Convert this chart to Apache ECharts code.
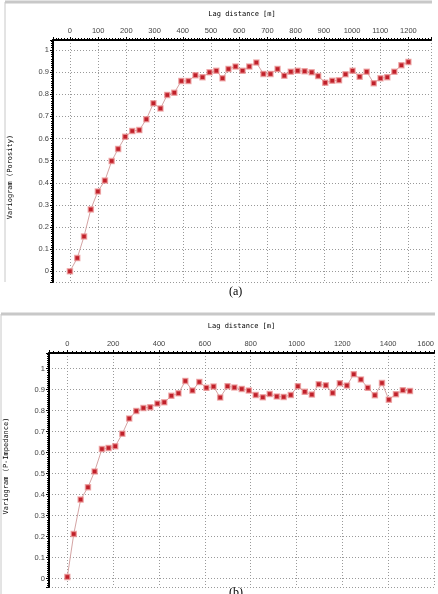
<!DOCTYPE html>
<html>
<head>
<meta charset="utf-8">
<script src="https://cdn.jsdelivr.net/npm/echarts@6/dist/echarts.min.js"></script>
<style>html,body{margin:0;padding:0;background:#fff;}#c{width:438px;height:594px;}</style>
</head>
<body>
<div id="c"></div>
<script>
// Panel (a): Porosity variogram
const lagA = [0,26,50,74,99,124,148,171,196,221,246,271,296,321,345,370,395,420,445,470,495,519,541,562,587,612,636,661,686,711,736,760,783,807,832,857,880,905,930,954,977,1002,1027,1052,1077,1101,1125,1150,1175,1200];
const varA = [0.00,0.06,0.158,0.28,0.361,0.41,0.498,0.553,0.608,0.634,0.638,0.687,0.759,0.736,0.797,0.807,0.86,0.86,0.886,0.877,0.899,0.906,0.872,0.914,0.925,0.906,0.925,0.943,0.892,0.892,0.914,0.884,0.902,0.906,0.904,0.899,0.882,0.852,0.861,0.863,0.89,0.906,0.879,0.902,0.85,0.872,0.877,0.902,0.931,0.946];
// Panel (b): P-Impedance variogram
const lagB = [0,28,58,90,119,151,180,209,240,270,301,332,362,393,423,454,485,515,546,576,607,638,667,699,729,761,792,822,853,883,914,944,975,1006,1036,1067,1097,1128,1158,1189,1220,1250,1281,1311,1342,1373,1403,1434,1464,1495];
const varB = [0.008,0.212,0.376,0.435,0.51,0.617,0.622,0.63,0.69,0.762,0.798,0.812,0.816,0.833,0.839,0.87,0.882,0.941,0.895,0.936,0.908,0.914,0.862,0.916,0.91,0.903,0.895,0.874,0.863,0.879,0.867,0.865,0.874,0.916,0.889,0.876,0.925,0.92,0.884,0.93,0.919,0.973,0.948,0.908,0.873,0.931,0.852,0.878,0.897,0.893];

const xNameA = 'Lag distance [m]';
const yNameA = 'Variogram (Porosity)';
const xNameB = 'Lag distance [m]';
const yNameB = 'Variogram (P-Impedance)';

const chart = echarts.init(document.getElementById('c'), null, {renderer: 'canvas'});

const labelFont = {color: '#444', fontSize: 7.5, fontFamily: 'Liberation Sans'};
const nameFont = {fontFamily: 'DejaVu Sans Mono', fontSize: 7, color: '#000'};
const gridLine = {show: true, lineStyle: {color: '#999', type: [1, 2], width: 1}};
const axisLineStyle = {show: true, onZero: false, lineStyle: {color: '#000', width: 2}};
const plain = v => String(Math.round(v * 1000) / 1000);

function xAxis(gridIndex, min, max, splitNumber, name, nameGap) {
  return {
    type: 'value', gridIndex, position: 'top', min, max, splitNumber,
    name, nameLocation: 'middle', nameGap,
    nameTextStyle: nameFont,
    axisLine: axisLineStyle,
    axisTick: {show: true, inside: false, length: 3, lineStyle: {color: '#000'}},
    minorTick: {show: true, splitNumber: 10, length: 2, lineStyle: {color: '#000'}},
    axisLabel: Object.assign({margin: 5, showMinLabel: false, alignMaxLabel: 'right', formatter: plain}, labelFont),
    splitLine: gridLine
  };
}
function yAxis(gridIndex, min, max, name, nameGap, pad) {
  return {
    type: 'value', gridIndex, min, max, splitNumber: 10,
    name, nameLocation: 'middle', nameGap, nameRotate: 90,
    nameTextStyle: Object.assign({padding: pad}, nameFont),
    axisLine: axisLineStyle,
    axisTick: {show: true, length: 3, lineStyle: {color: '#000'}},
    minorTick: {show: true, splitNumber: 10, length: 2, lineStyle: {color: '#000'}},
    axisLabel: Object.assign({margin: 4, showMinLabel: false, showMaxLabel: false, formatter: plain}, labelFont),
    splitLine: gridLine
  };
}
function series(i, xs, ys) {
  return {
    type: 'line', xAxisIndex: i, yAxisIndex: i,
    data: xs.map((x, k) => [x, ys[k]]),
    symbol: 'rect', symbolSize: 5,
    lineStyle: {color: '#d4a4a4', width: 1},
    itemStyle: {color: '#c0202a', borderColor: 'rgba(235,150,150,0.7)', borderWidth: 1.5},
    animation: false, z: 3
  };
}

chart.setOption({
  animation: false,
  backgroundColor: '#fff',
  grid: [
    {left: 53, top: 40, width: 378, height: 242, containLabel: false, outerBoundsMode: 'none'},
    {left: 49, top: 353, width: 385, height: 234, containLabel: false, outerBoundsMode: 'none'}
  ],
  xAxis: [
    xAxis(0, -60, 1280, 13, xNameA, 22),
    xAxis(1, -80, 1600, 8, xNameB, 23)
  ],
  yAxis: [
    yAxis(0, -0.048, 1.045, yNameA, 39, [0, 32, 0, 0]),
    yAxis(1, -0.04, 1.074, yNameB, 39, [0, 0, 0, 8])
  ],
  series: [series(0, lagA, varA), series(1, lagB, varB)],
  graphic: [
    {type: 'line', shape: {x1: 5, y1: 2, x2: 432, y2: 2}, style: {stroke: '#c8c8c8', lineWidth: 3}},
    {type: 'line', shape: {x1: 5, y1: 2, x2: 5, y2: 282}, style: {stroke: '#c8c8c8', lineWidth: 1}},
    {type: 'line', shape: {x1: 1, y1: 314, x2: 435, y2: 314}, style: {stroke: '#c8c8c8', lineWidth: 3}},
    {type: 'line', shape: {x1: 1, y1: 314, x2: 1, y2: 594}, style: {stroke: '#c8c8c8', lineWidth: 1}},
    {type: 'text', left: 229, top: 286, style: {text: '(a)', font: '12px "Liberation Serif"', fill: '#000'}},
    {type: 'text', left: 229, top: 587, style: {text: '(b)', font: '12px "Liberation Serif"', fill: '#000'}}
  ]
});
</script>
</body>
</html>
